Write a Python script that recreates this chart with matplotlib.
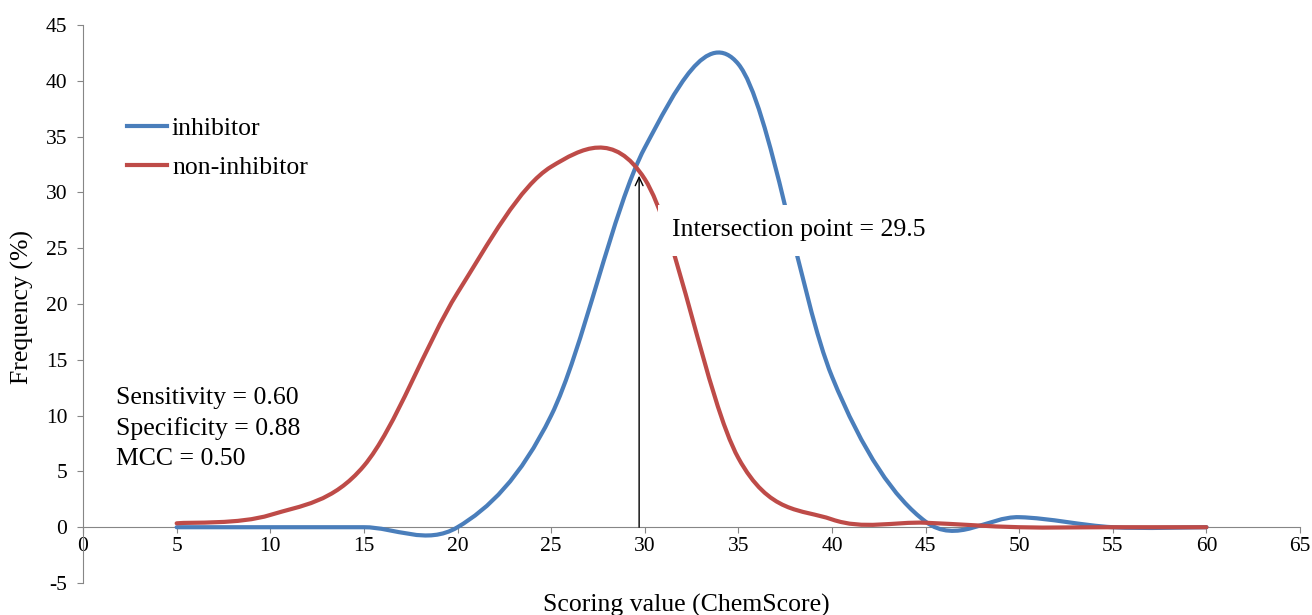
import matplotlib
matplotlib.use('Agg')
import matplotlib.pyplot as plt
import numpy as np
from matplotlib.path import Path
from matplotlib.patches import PathPatch
from matplotlib.lines import Line2D

plt.rcParams['font.family'] = ['Liberation Serif', 'DejaVu Serif']
plt.rcParams['axes.unicode_minus'] = False

# values (frequency %, at each score bin)
scores = [5, 10, 15, 20, 25, 30, 35, 40, 45, 50, 55, 60]
inhibitor = [0, 0, 0, 0, 10, 34, 41.5, 13.5, 0.5, 0.9, 0, 0]
non_inhibitor = [0.35, 1.1, 5.5, 21, 32.3, 31.2, 6.2, 0.7, 0.4, 0, 0, 0]

series_names = ['inhibitor', 'non-inhibitor']
series_colors = ['#4A7EBB', '#BE4B48']

stats_lines = ['Sensitivity = 0.60', 'Specificity = 0.88', 'MCC = 0.50']
intersection = 29.5
arrow_x = 29.7
arrow_top = 31.5


def smooth_path(x, y):
    # Excel-style smoothed line: cubic bezier through each point
    x = np.asarray(x, float)
    y = np.asarray(y, float)
    px = np.concatenate([[x[0]], x, [x[-1]]])
    py = np.concatenate([[y[0]], y, [y[-1]]])
    verts = [(x[0], y[0])]
    codes = [Path.MOVETO]
    for i in range(1, len(px) - 2):
        c1 = (px[i] + (px[i + 1] - px[i - 1]) / 6, py[i] + (py[i + 1] - py[i - 1]) / 6)
        c2 = (px[i + 1] - (px[i + 2] - px[i]) / 6, py[i + 1] - (py[i + 2] - py[i]) / 6)
        verts += [c1, c2, (px[i + 1], py[i + 1])]
        codes += [Path.CURVE4] * 3
    return Path(verts, codes)


fig = plt.figure(figsize=(13.12, 6.15), dpi=100)
ax = fig.add_axes([0.0633, 0.052, 0.9276, 0.9073])

for vals, col in zip([inhibitor, non_inhibitor], series_colors):
    patch = PathPatch(smooth_path(scores, vals), facecolor='none', edgecolor=col,
                      lw=3, capstyle='round', joinstyle='round', zorder=3)
    ax.add_patch(patch)

ax.set_xlim(0, 65)
ax.set_ylim(-5, 45)
ax.set_xticks(np.arange(0, 66, 5))
ax.set_yticks(np.arange(-5, 46, 5))

for s in ['top', 'right']:
    ax.spines[s].set_visible(False)
ax.spines['bottom'].set_position(('data', 0))
ax.spines['bottom'].set_color('#868686')
ax.spines['left'].set_color('#868686')
ax.spines['bottom'].set_zorder(1)
ax.tick_params(axis='both', direction='out', length=4.3, color='#868686',
               labelsize=15.5, labelcolor='black')
ax.tick_params(axis='x', pad=3)
ax.tick_params(axis='y', pad=7)

# intersection annotation
ax.annotate('', xy=(arrow_x, arrow_top), xytext=(arrow_x, 0),
            arrowprops=dict(arrowstyle='->,head_length=0.6,head_width=0.28',
                            color='black', lw=1, shrinkA=0, shrinkB=0), zorder=5)
ax.text(31.46, 26.6, 'Intersection point = %.1f' % intersection, fontsize=18.5,
        va='center', ha='left', zorder=4,
        bbox=dict(boxstyle='square,pad=0.55', facecolor='white', edgecolor='none'))

for i, s in enumerate(stats_lines):
    ax.text(1.76, 11.56 - i * 2.72, s, fontsize=18.5, va='center', ha='left')

handles = [Line2D([], [], color=c, lw=3) for c in series_colors]
fig.legend(handles, series_names, loc='upper left', bbox_to_anchor=(127 / 1312, 1 - 117 / 615),
           frameon=False, fontsize=18.5, handlelength=1.55, handletextpad=0.2,
           labelspacing=0.63, borderpad=0, borderaxespad=0)

fig.text(686 / 1312, 1 - 594 / 615, 'Scoring value (ChemScore)', fontsize=18.5,
         ha='center', va='top')
fig.text(22 / 1312, 1 - 307 / 615, 'Frequency (%)', fontsize=18.5,
         ha='center', va='center', rotation=90)

fig.savefig('out.png', dpi=100)
